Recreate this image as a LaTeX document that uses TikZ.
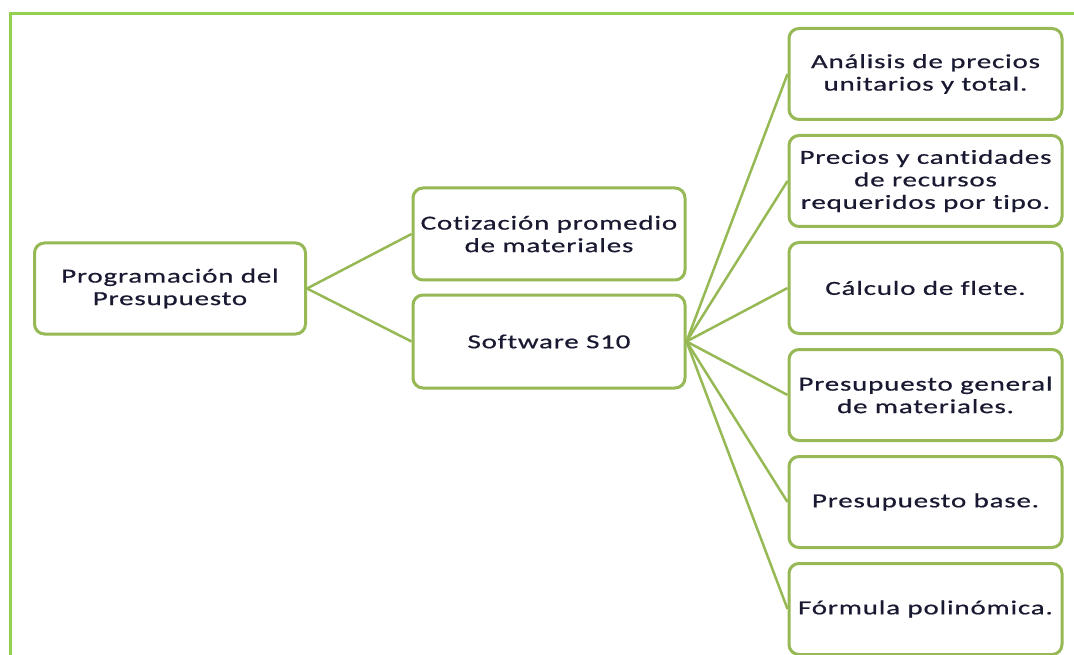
\documentclass[tikz,border=0pt]{standalone}
\usepackage{fontspec}
\setmainfont{Carlito}[FakeStretch=1.45,LetterSpace=4,FakeBold=0.6,Ligatures=CommonOff]
\definecolor{boxgreen}{RGB}{150,185,85}
\definecolor{framegreen}{RGB}{146,208,80}
\definecolor{txt}{RGB}{25,25,50}
\tikzset{
  box/.style={draw=boxgreen, line width=3pt, rounded corners=10pt, fill=white,
    inner sep=0pt, align=center, text=txt,
    font=\fontsize{20}{22.5}\selectfont},
  smallbox/.style={box, minimum width=272pt, minimum height=92pt},
  rightbox/.style={box, minimum width=273pt, minimum height=91pt},
  conn/.style={draw=boxgreen, line width=2.5pt},
  frame/.style={draw=framegreen, line width=3pt}
}
\begin{document}
\begin{tikzpicture}[x=1pt,y=-1pt]
\useasboundingbox (0,0) rectangle (1074,655);
\draw[frame] (10,660) -- (10,14) -- (1080,14);

\node[box, minimum width=271pt, minimum height=91pt] (root) at (170,288.5) {Programación del\\Presupuesto};
\node[smallbox] (cot) at (549,234) {Cotización promedio\\de materiales};
\node[smallbox, minimum height=93pt] (soft) at (549,341.5) {Software S10};

\node[rightbox] (r1) at (925.5,74) {Análisis de precios\\unitarios y total.};
\node[rightbox] (r2) at (925.5,181) {Precios y cantidades\\de recursos\\requeridos por tipo.};
\node[rightbox] (r3) at (925.5,288) {Cálculo de flete.};
\node[rightbox] (r4) at (925.5,395) {Presupuesto general\\de materiales.};
\node[rightbox] (r5) at (925.5,502) {Presupuesto base.};
\node[rightbox] (r6) at (925.5,609) {Fórmula polinómica.};

\draw[conn] (root.east) -- (cot.west);
\draw[conn] (root.east) -- (soft.west);
\foreach \n in {r1,r2,r3,r4,r5,r6} {
  \draw[conn] (soft.east) -- (\n.west);
}
\end{tikzpicture}
\end{document}
